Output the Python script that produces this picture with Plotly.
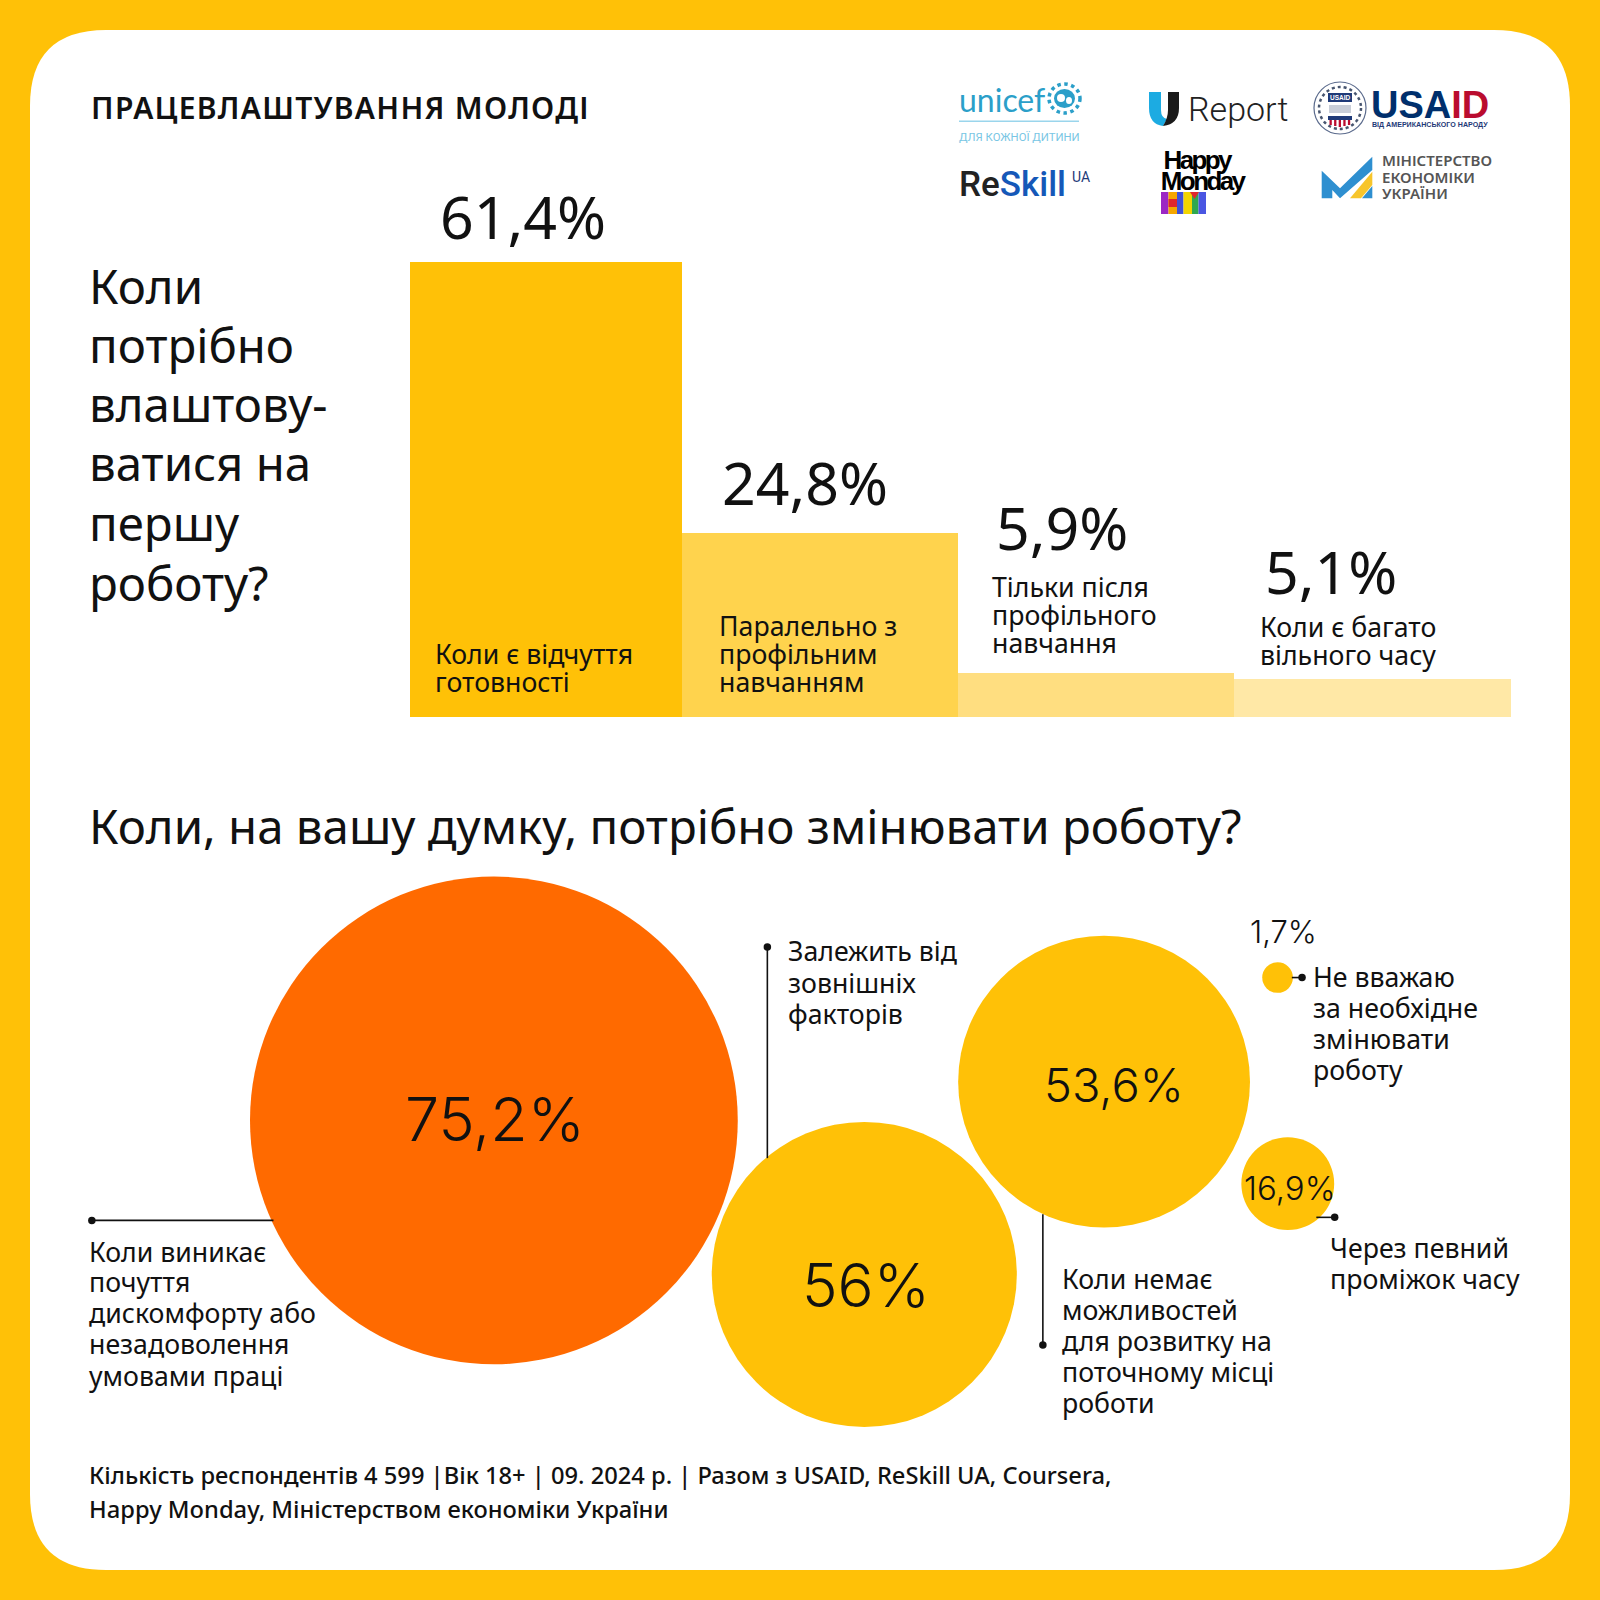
import plotly.graph_objects as go

# ---------- data ----------
bar_categories = ["Коли є відчуття готовності", "Паралельно з профільним навчанням",
                  "Тільки після профільного навчання", "Коли є багато вільного часу"]
bar_values = [61.4, 24.8, 5.9, 5.1]
bar_value_labels = ["61,4%", "24,8%", "5,9%", "5,1%"]

bubble_categories = ["Коли виникає почуття дискомфорту або незадоволення умовами праці",
                     "Залежить від зовнішніх факторів",
                     "Коли немає можливостей для розвитку на поточному місці роботи",
                     "Через певний проміжок часу",
                     "Не вважаю за необхідне змінювати роботу"]
bubble_values = [75.2, 56, 53.6, 16.9, 1.7]
bubble_value_labels = ["75,2%", "56%", "53,6%", "16,9%", "1,7%"]

# ---------- layout of the free-form bubbles (picture units) ----------
S = 1600 / 1568
bubble_x = [484, 847, 1082, 1262, 1252]
bubble_y = [1098, 1249, 1060, 1160, 958]
bubble_d = [478, 299, 286, 91, 30]
bubble_colors = ["#FF6A00", "#FFC107", "#FFC107", "#FFC107", "#FFC107"]
bar_colors = ["#FFC107", "#FFD34D", "#FFDE80", "#FFE8A6"]
bar_widths = [0.988, 1.003, 1.003, 1.006]
bar_offsets = [-0.5, -0.512, -0.509, -0.506]
YEL = "#FFC107"
INK = "#111111"
BODY = "Noto Sans"

fig = go.Figure()
fig.add_trace(go.Bar(x=bar_categories, y=bar_values, width=bar_widths, offset=bar_offsets,
                     marker=dict(color=bar_colors, line_width=0),
                     xaxis="x", yaxis="y", hoverinfo="skip", showlegend=False))
fig.add_trace(go.Scatter(x=[v * S for v in bubble_x], y=[v * S for v in bubble_y], mode="markers",
                         marker=dict(size=[v * S for v in bubble_d], sizemode="diameter",
                                     color=bubble_colors, line_width=0, opacity=1),
                         customdata=bubble_values, text=bubble_categories,
                         xaxis="x2", yaxis="y2", showlegend=False, hoverinfo="text"))

# leader lines
leaders = [((90, 1196), (268, 1196)), ((752, 928), (752, 1135)), ((1022, 1318), (1022, 1190)),
           ((1276, 958), (1266, 958)), ((1308, 1193), (1290, 1193))]
lx, ly = [], []
for a, b in leaders:
    lx += [a[0] * S, b[0] * S, None]
    ly += [a[1] * S, b[1] * S, None]
fig.add_trace(go.Scatter(x=lx, y=ly, mode="lines", line=dict(color=INK, width=1.6),
                         xaxis="x2", yaxis="y2", hoverinfo="skip", showlegend=False))
fig.add_trace(go.Scatter(x=[a[0] * S for a, _ in leaders], y=[a[1] * S for a, _ in leaders], mode="markers",
                         marker=dict(size=7.5, color=INK), xaxis="x2", yaxis="y2",
                         hoverinfo="skip", showlegend=False))

annotations = []


def label(text, x, y, size, color=INK, family=BODY, weight=400, anchor="left"):
    dx = -2.5 if anchor == "left" else 0
    annotations.append(dict(text=text, x=(x + dx) * S, y=(y - 1.5) * S, xref="x2", yref="y2", xanchor=anchor,
                            yanchor="middle", showarrow=False, align=anchor,
                            font=dict(size=size, color=color, family=family, weight=weight)))


def block(lines, x, ys, size=26.7):
    for t, y in zip(lines, ys):
        label(t, x, y, size)


label("ПРАЦЕВЛАШТУВАННЯ МОЛОДІ", 334, 107, 30, weight=600, anchor="center")
block(["Коли", "потрібно", "влаштову-", "ватися на", "першу", "роботу?"], 88, [281, 339, 397, 455, 514, 572], 47.4)
for t, x, y in zip(bar_value_labels, [432, 708, 977, 1240], [213, 474, 518, 561]):
    label(t, x, y, 59)
block(["Коли є відчуття", "готовності"], 427, [642, 669])
block(["Паралельно з", "профільним", "навчанням"], 705, [614, 642, 669])
block(["Тільки після", "профільного", "навчання"], 973, [576, 604, 631])
block(["Коли є багато", "вільного часу"], 1235, [615, 643])
label("Коли, на вашу думку, потрібно змінювати роботу?", 88, 810, 47.4)
block(["Залежить від", "зовнішніх", "факторів"], 773, [933, 964, 995])
block(["Коли виникає", "почуття", "дискомфорту або", "незадоволення", "умовами праці"], 88, [1228, 1257, 1288, 1318, 1349])
block(["Коли немає", "можливостей", "для розвитку на", "поточному місці", "роботи"], 1041, [1254, 1285, 1315, 1346, 1376])
block(["Не вважаю", "за необхідне", "змінювати", "роботу"], 1287, [958, 989, 1019, 1050])
block(["Через певний", "проміжок часу"], 1304, [1224, 1254])
label("Кількість респондентів 4 599 |Вік 18+ | 09. 2024 р. | Разом з USAID, ReSkill UA, Coursera,", 88, 1447, 23.7, weight=500)
label("Happy Monday, Міністерством економіки України", 88, 1480.5, 23.7, weight=500)

# bubble value labels
for t, x, y, s in zip(bubble_value_labels[:4], [485, 849, 1092, 1264], [1098, 1261, 1064, 1166], [61, 60, 47, 33]):
    label(t, x, y, s, family="Inter", anchor="center", weight=350)
label(bubble_value_labels[4], 1226, 914, 31, family="Inter", weight=350)

# ---------- partner marks ----------
shapes = []


def R(x0, y0, x1, y1, color):
    shapes.append(dict(type="rect", xref="x2", yref="y2", x0=x0, y0=y0, x1=x1, y1=y1,
                       fillcolor=color, line_width=0, layer="above"))


def C(x0, y0, x1, y1, fill, line=None, width=0, dash="solid"):
    shapes.append(dict(type="circle", xref="x2", yref="y2", x0=x0, y0=y0, x1=x1, y1=y1, fillcolor=fill,
                       line=dict(color=line or fill, width=width, dash=dash), layer="above"))


def P(path, color):
    shapes.append(dict(type="path", xref="x2", yref="y2", layer="above", line_width=0, fillcolor=color, path=path))


def real(text, x, y, size, color=INK, family="Roboto", weight=400, anchor="left"):
    annotations.append(dict(text=text, x=x, y=y, xref="x2", yref="y2", xanchor=anchor, yanchor="middle",
                            showarrow=False, font=dict(size=size, color=color, family=family, weight=weight)))


TEAL = "#2B9FC9"
real("unicef", 957, 99, 32, TEAL, "Lato", 400)
C(1049, 84, 1080, 113, "rgba(0,0,0,0)", TEAL, 3.5, "dot")
C(1054, 89, 1075, 108, TEAL)
C(1057, 94, 1065, 102, "white")
C(1066, 97, 1072, 104, "white")
R(959, 120.5, 1079, 122, "#9AD5EC")
real("ДЛЯ КОЖНОЇ ДИТИНИ", 957, 137, 11.3, "#79C6E4", "Roboto")

P("M1149,92 L1161,92 L1161,110 Q1161,118 1167,119 L1163,126 Q1149,124 1149,108 Z", "#1CABE2")
P("M1168,92 L1179,92 L1179,108 Q1179,124 1163,126 Q1168,118 1168,110 Z", "#1A1A1A")
real("Report", 1186, 109, 34, "#222222", "Roboto", 300)

C(1314, 82, 1366, 134, "white", "#5A6A8C", 1.2)
C(1319, 87, 1361, 129, "rgba(0,0,0,0)", "#47556F", 2.5, "dot")
R(1328, 93, 1352, 102, "#1F3A78")
real("USAID", 1340, 97.5, 6.5, "white", "Liberation Sans", 700, "center")
R(1329, 105, 1351, 113, "#C9CED8")
R(1328, 116, 1352, 120, "#1F3A78")
for i in range(5):
    R(1329.5 + i * 4.6, 120, 1331.8 + i * 4.6, 127 - abs(i - 2), "#BA0C2F")
real('<span style="color:#002F6C">USA</span><span style="color:#BA0C2F">ID</span>', 1369, 105, 38, "#002F6C", "Liberation Sans", 700)
real("ВІД АМЕРИКАНСЬКОГО НАРОДУ", 1370, 125, 7.1, "#1F3A78", "Liberation Sans", 700)

real('<span style="color:#222222">Re</span><span style="color:#1558B8">Skill</span>', 957, 184, 35, "#222222", "Roboto", 500)
real("UA", 1070, 177, 14, "#1F3A78", "Roboto", 400)

real("Happy", 1196.5, 160, 26, "#000000", "Liberation Sans", 700, "center")
real("Monday", 1202, 181, 26, "#000000", "Liberation Sans", 700, "center")
for x0, x1, c in [(1161, 1168.5, "#9B27C4"), (1168.5, 1177, "#F5A700"), (1177, 1183.5, "#3F51D9"),
                  (1183.5, 1192, "#F2D500"), (1192, 1198.5, "#2FA84F"), (1198.5, 1206, "#4A56E2")]:
    R(x0, 192, x1, 214, c)
R(1168.5, 199, 1177, 207, "#E0262E")
P("M1190,192 L1199,192 L1194.5,199 Z", "#E0262E")

BLUE = "#2E8FD0"
P("M1321.7,170.7 L1340,188.3 L1372.3,156.7 L1372.3,170 L1340,198.3 L1332.3,190 L1332.3,198.3 L1321.7,198.3 Z", BLUE)
P("M1350,198.3 L1372.3,171.7 L1372.3,185 L1361,198.3 Z", "#F7C52B")
P("M1372.3,186 L1372.3,198.3 L1362,198.3 Z", BLUE)
real("МІНІСТЕРСТВО", 1380, 160, 15, "#555555", "Noto Sans", 600)
real("ЕКОНОМІКИ", 1380, 177, 15, "#555555", "Noto Sans", 600)
real("УКРАЇНИ", 1380, 193, 15, "#555555", "Noto Sans", 600)

# white card on the yellow page (paper fractions, so that it lies under every subplot)
r = 76 / 1600
c0, c1 = 30 / 1600, 1570 / 1600
card = (f"M{c0 + r},{c0} L{c1 - r},{c0} Q{c1},{c0} {c1},{c0 + r} L{c1},{c1 - r} Q{c1},{c1} {c1 - r},{c1} "
        f"L{c0 + r},{c1} Q{c0},{c1} {c0},{c1 - r} L{c0},{c0 + r} Q{c0},{c0} {c0 + r},{c0} Z")
shapes.insert(0, dict(type="path", xref="paper", yref="paper", path=card, fillcolor="white", line_width=0, layer="below"))

hidden = dict(visible=False, showgrid=False, zeroline=False, fixedrange=True)
fig.update_layout(
    width=1600, height=1600, autosize=False, margin=dict(l=0, r=0, t=0, b=0),
    paper_bgcolor=YEL, plot_bgcolor="rgba(0,0,0,0)", bargap=0, showlegend=False,
    xaxis=dict(domain=[410 / 1600, 1511 / 1600], range=[-0.5, 3.5], anchor="y", **hidden),
    yaxis=dict(domain=[(1600 - 717) / 1600, (1600 - 230) / 1600], range=[0, 487 / 7.41], anchor="x", **hidden),
    xaxis2=dict(domain=[0, 1], range=[0, 1600], anchor="y2", **hidden),
    yaxis2=dict(domain=[0, 1], range=[1600, 0], anchor="x2", **hidden),
    shapes=shapes, annotations=annotations,
)
post = """
document.documentElement.style.margin='0';document.body.style.margin='0';document.body.style.overflow='hidden';
var ls={'ПРАЦЕВЛАШТУВАННЯ МОЛОДІ':'1.3px','Happy':'-2.6px','Monday':'-2.6px'};
document.querySelectorAll('.annotation-text').forEach(function(t){if(ls[t.textContent]){t.style.letterSpacing=ls[t.textContent];}});
"""
fig.write_html("out.html", post_script=post, config=dict(displayModeBar=False))
